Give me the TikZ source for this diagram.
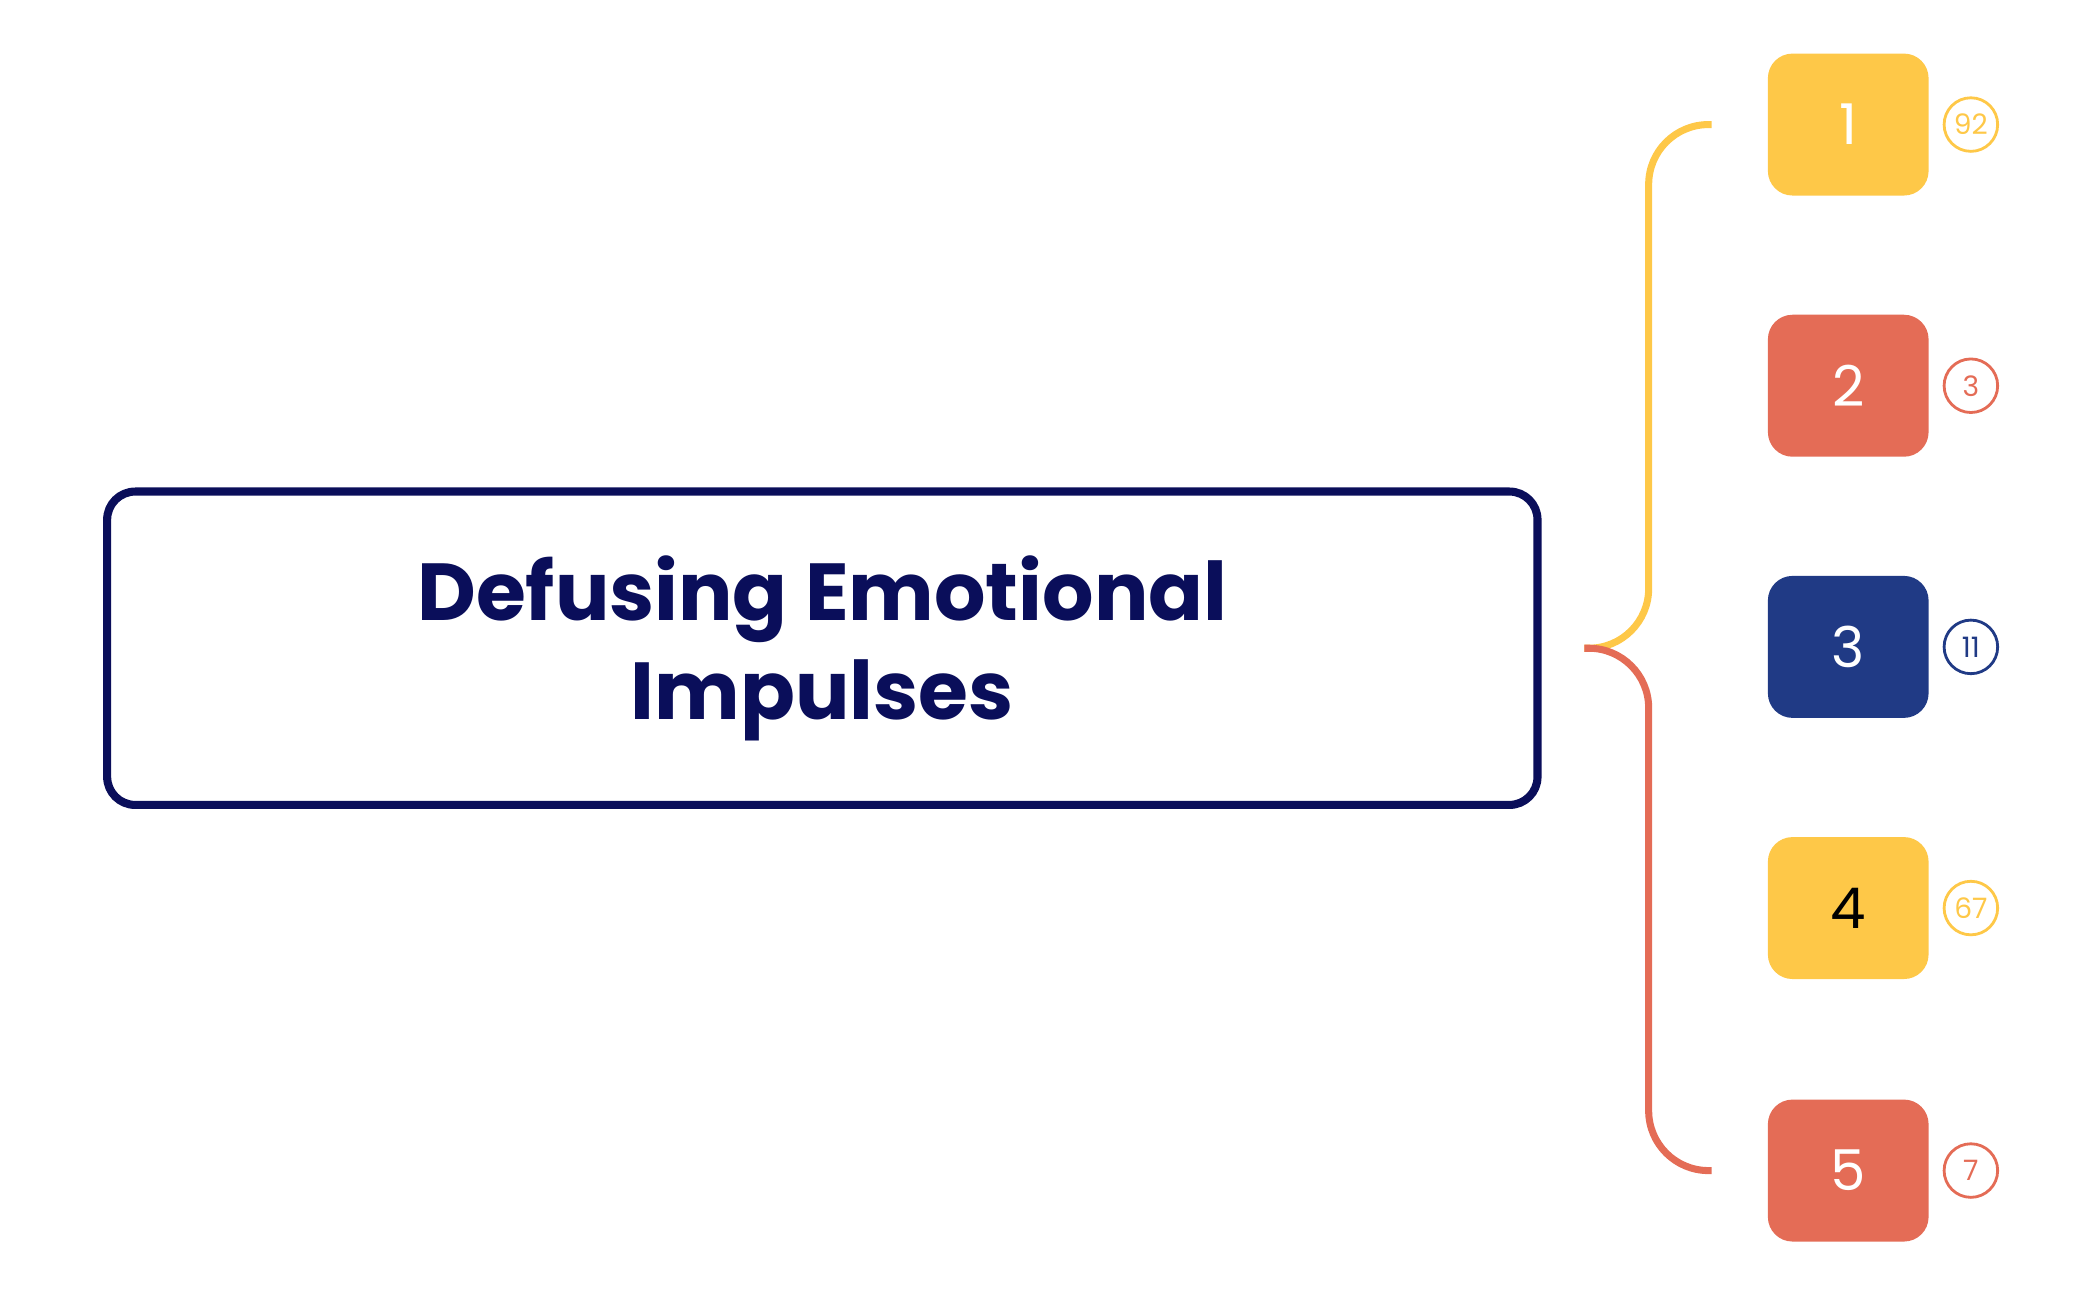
\documentclass[tikz,border=0pt]{standalone}
\usepackage{fontspec}
\setmainfont{Poppins}
\usetikzlibrary{positioning}
\definecolor{Navy}{RGB}{10,14,90}
\definecolor{Sun}{RGB}{254,200,72}
\definecolor{Coral}{RGB}{228,108,86}
\definecolor{Ocean}{RGB}{32,58,133}
\tikzset{
  topic/.style={draw=Navy,line width=2.3pt,rounded corners=8pt,minimum width=1068*0.1339mm,minimum height=234*0.1339mm,align=center,text=Navy,font=\fontsize{23}{28}\selectfont\bfseries},
  leaf/.style={fill=#1,rounded corners=7pt,minimum width=120*0.1339mm,minimum height=106*0.1339mm,font=\fontsize{16}{18}\selectfont,text=white},
  badge/.style={draw=#1,circle,line width=0.8pt,minimum size=40*0.1339mm,inner sep=0pt,text=#1,font=\fontsize{8}{9}\selectfont},
  branch/.style={draw=#1,line width=2pt,rounded corners=17pt}
}
\begin{document}
\begin{tikzpicture}[x=0.1339mm,y=-0.1339mm]
  \useasboundingbox (0,0) rectangle (1568,969);
  \node[topic] (root) at (614,484) {Defusing Emotional\\Impulses};
  \coordinate (hub) at (1183,484);
  % leaves
  \node[leaf=Sun] (n1) at (1380,93) {1};
  \node[leaf=Coral] (n2) at (1380,288) {2};
  \node[leaf=Ocean] (n3) at (1380,483) {3};
  \node[leaf=Sun,text=black] (n4) at (1380,678) {4};
  \node[leaf=Coral] (n5) at (1380,874) {5};
  \node[badge=Sun,right=10*0.1339mm of n1] (c1) {92};
  \node[badge=Coral,right=10*0.1339mm of n2] (c2) {3};
  \node[badge=Ocean,right=10*0.1339mm of n3] (c3) {11};
  \node[badge=Sun,right=10*0.1339mm of n4] (c4) {67};
  \node[badge=Coral,right=10*0.1339mm of n5] (c5) {7};
  % branches
  \coordinate (e1) at (1278,93);
  \coordinate (e5) at (1278,874);
  \draw[branch=Sun] (hub) -| (1231,93) -- (e1);
  \draw[branch=Coral] (hub) -| (1231,874) -- (e5);
\end{tikzpicture}
\end{document}
